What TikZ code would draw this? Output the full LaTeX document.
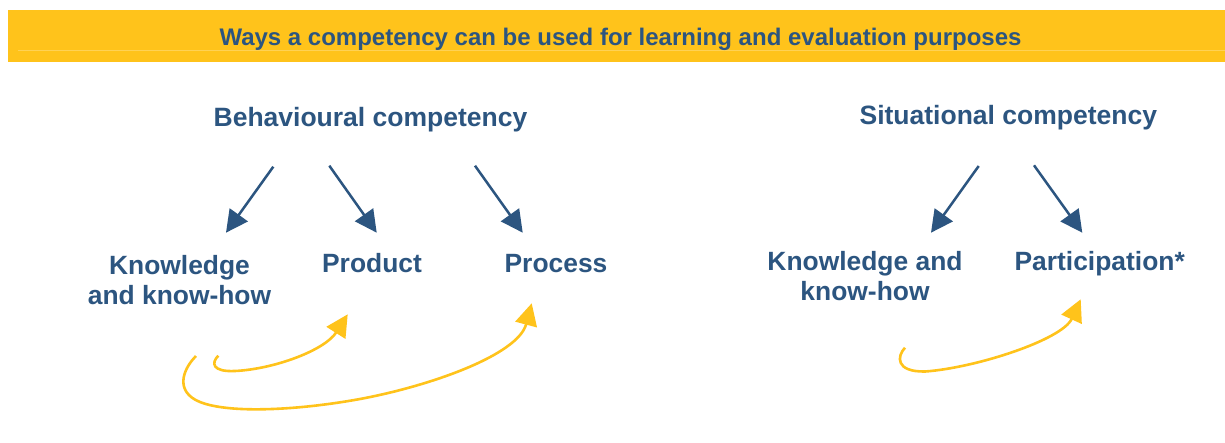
\documentclass[tikz,border=0pt]{standalone}
\usepackage{fontspec}
\setmainfont{Liberation Sans}
\usetikzlibrary{arrows.meta,calc}
\definecolor{navy}{RGB}{44,85,128}
\definecolor{gold}{RGB}{255,195,27}
\definecolor{goldline}{RGB}{255,210,85}
\begin{document}
\begin{tikzpicture}[x=1pt,y=-1pt,
  titletext/.style={font=\fontsize{24}{28}\selectfont\bfseries, text=navy, inner sep=0pt, anchor=base},
  head/.style={font=\fontsize{26.5}{30}\selectfont\bfseries, text=navy, inner sep=0pt, anchor=base},
  lbl/.style={font=\fontsize{26.4}{30}\selectfont\bfseries, text=navy, inner sep=0pt, anchor=base, align=center},
  barrow/.style={draw=navy, line width=2.5pt, -{Triangle[length=22pt,width=22pt]}},
  yarrow/.style={draw=gold, line width=2.6pt, -{Triangle[length=22pt,width=22pt]}}]
\useasboundingbox[fill=white] (0,0) rectangle (1225,442);
% banner
\fill[gold] (8,10) rectangle (1225,62.3);
\draw[goldline, line width=0.7pt] (18,50.3) -- (1225,50.3);
\node[titletext] (title) at (620.5,45) {Ways a competency can be used for learning and evaluation purposes};
% headings
\node[head] (beh) at (370.5,126) {Behavioural competency};
\node[head] (sit) at (1008.3,124) {Situational competency};
% labels
\node[lbl] (kn1) at (179.5,304) {Knowledge\\and know-how};
\node[lbl] (prod) at (372,272.5) {Product};
\node[lbl] (proc) at (556,272) {Process};
\node[lbl] (kn2) at (865,300) {Knowledge and\\know-how};
\node[lbl] (part) at (1099.7,270) {Participation*};
% blue arrows
\draw[barrow] ($(beh.base)+(-97.2,40.7)$) -- ($(prod.base)+(-146,-39.8)$);
\draw[barrow] ($(beh.base)+(-41.2,39.7)$) -- ($(prod.base)+(4.7,-39.8)$);
\draw[barrow] ($(beh.base)+(104.5,39.7)$) -- ($(proc.base)+(-33.3,-39.3)$);
\draw[barrow] ($(sit.base)+(-29.6,42)$) -- ($(part.base)+(-168.7,-37.3)$);
\draw[barrow] ($(sit.base)+(25.7,41.3)$) -- ($(part.base)+(-17.4,-37.3)$);
% yellow curved arrows
\coordinate (s1) at ($(prod.base)+(-153.7,83.2)$);
\coordinate (s2) at ($(prod.base)+(-176,83.5)$);
\coordinate (s3) at ($(part.base)+(-194.7,77.7)$);
\draw[yarrow] (s1) .. controls (211,363) and (212,372) .. (235,371)
  .. controls (275,369) and (325,350) .. ($(prod.base)+(-24.3,41.8)$);
\draw[yarrow] (s2) .. controls (182,370) and (175,392) .. (200,402)
  .. controls (230,414) and (300,410) .. (360,399)
  .. controls (430,386) and (518,355) .. ($(proc.base)+(-24.3,31.3)$);
\draw[yarrow] (s3) .. controls (897,356) and (895,372) .. (925,371.5)
  .. controls (975,368) and (1062,340) .. ($(part.base)+(-19,29.3)$);
\end{tikzpicture}
\end{document}
